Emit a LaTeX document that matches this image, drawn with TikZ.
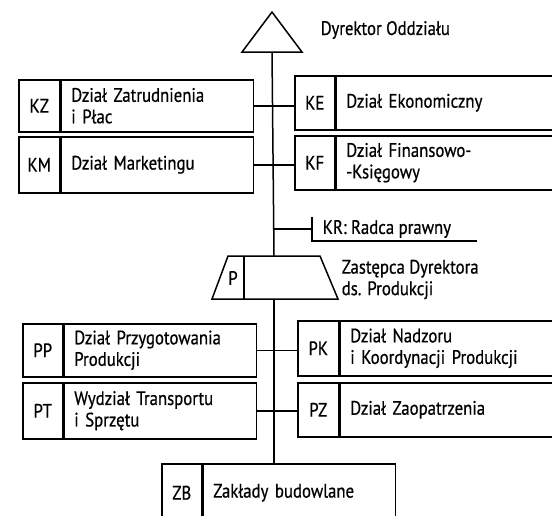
\documentclass[tikz,border=0pt]{standalone}
\usepackage{fontspec}
\setmainfont[FakeStretch=0.86,FakeBold=0.6]{PT Sans}
\newcommand{\orgfont}{\fontsize{19.5}{21.5}\selectfont}
\begin{document}
\begin{tikzpicture}[x=1pt,y=-1pt,
  every path/.style={line width=1.5pt},
  unit/.style={draw, line width=1.5pt, inner sep=0pt, font=\orgfont},
  codebox/.style={unit, minimum width=#1, align=center},
  labelbox/.style={unit, text width=#1-20pt, inner xsep=10pt, align=left},
  caption/.style={inner sep=0pt, font=\orgfont, align=left, anchor=west}]
\useasboundingbox (0,0) rectangle (552,515);

% Dyrektor Oddziału
\draw (242,52) -- (272,12) -- (302,52) -- cycle;
\coordinate (dir) at (272,52);
\node[caption] (dirtxt) at (320,30) {Dyrektor Oddziału};

% departments reporting to the director
\node[codebox=41pt, minimum height=52pt, anchor=north west] (kzc) at (18,79) {KZ};
\node[labelbox=192pt, minimum height=52pt, anchor=north west] (kz) at (kzc.north east) {Dział Zatrudnienia\\i Płac};
\node[codebox=41pt, minimum height=56pt, anchor=north west] (kmc) at (18,136) {KM};
\node[labelbox=192pt, minimum height=56pt, anchor=north west] (km) at (kmc.north east) {Dział Marketingu};

\node[codebox=40pt, minimum height=54pt, anchor=north west] (kec) at (294,75) {KE};
\node[labelbox=226pt, minimum height=54pt, anchor=north west] (ke) at (kec.north east) {Dział Ekonomiczny};
\node[codebox=40pt, minimum height=54pt, anchor=north west] (kfc) at (294,135) {KF};
\node[labelbox=226pt, minimum height=54pt, anchor=north west] (kf) at (kfc.north east) {Dział Finansowo-\\-Księgowy};

\draw (kz.east) -- (kec.west |- kz.east);
\draw (km.east) -- (kfc.west |- km.east);

% legal adviser
\coordinate (krb) at (312,229);
\node[caption] (kr) at (322,229) {KR: Radca prawny};
\draw (312,217) -- (312,241) -- (477,241);
\draw (273,229) -- (krb);

% deputy director for production
\coordinate (ptop) at (274,256);
\coordinate (pbot) at (274,299);
\draw (228,256) -- (320,256) -- (338,299) -- (212,299) -- cycle;
\draw (244,256) -- (244,299);
\node[inner sep=0pt, font=\orgfont] (p) at (233,278) {P};
\node[caption] (zast) at (341,279.5) {Zastępca Dyrektora\\ds. Produkcji};
\draw (dir) -- (ptop);

% production departments
\node[codebox=40pt, minimum height=53pt, anchor=north west] (ppc) at (22,323) {PP};
\node[labelbox=192pt, minimum height=53pt, anchor=north west] (pp) at (ppc.north east) {Dział Przygotowania\\Produkcji};
\node[codebox=40pt, minimum height=56pt, anchor=north west] (ptc) at (22,382) {PT};
\node[labelbox=192pt, minimum height=56pt, anchor=north west] (pt) at (ptc.north east) {Wydział Transportu\\i Sprzętu};

\node[codebox=41pt, minimum height=55pt, anchor=north west] (pkc) at (297,320) {PK};
\node[labelbox=222pt, minimum height=55pt, anchor=north west] (pk) at (pkc.north east) {Dział Nadzoru\\i Koordynacji Produkcji};
\node[codebox=41pt, minimum height=54pt, anchor=north west] (pzc) at (297,382) {PZ};
\node[labelbox=222pt, minimum height=54pt, anchor=north west] (pz) at (pzc.north east) {Dział Zaopatrzenia};

\draw (pp.east) -- (pkc.west |- pp.east);
\draw (pt.east) -- (pzc.west |- pt.east);

% construction plants
\node[codebox=40pt, minimum height=58pt, anchor=north west] (zbc) at (161,463) {ZB};
\node[labelbox=192pt, minimum height=58pt, anchor=north west] (zb) at (zbc.north east) {Zakłady budowlane};
\draw (pbot) -- (pbot |- zb.north);
\end{tikzpicture}
\end{document}
